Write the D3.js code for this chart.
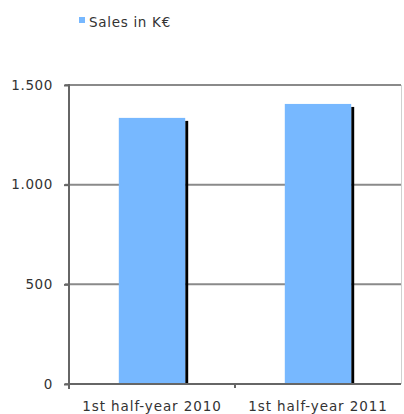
<!DOCTYPE html>
<html>
<head>
<meta charset="utf-8">
<script src="https://cdn.jsdelivr.net/npm/d3@7"></script>
<style>
  body { margin: 0; background: #fff; }
  svg { display: block; font-family: "DejaVu Sans", Verdana, sans-serif; }
</style>
</head>
<body>
<svg width="404" height="414"></svg>
<script>
var categories = ["1st half-year 2010", "1st half-year 2011"];
var sales = [1335, 1405];
var seriesName = "Sales in K€";
var yTicks = [0, 500, 1000, 1500];
var yTickLabels = ["0", "500", "1.000", "1.500"];

const svg = d3.select('svg');
const plotLeft = 69, plotRight = 401, plotTop = 85, plotBottom = 384;
const labelFont = '"DejaVu Sans", Verdana, sans-serif';

const yScale = d3.scaleLinear()
  .range([plotBottom, plotTop])
  .domain([0, 1500]);

const xScale = d3.scaleBand()
  .range([plotLeft, plotRight])
  .domain(categories)
  .paddingInner(0.6)
  .paddingOuter(0.3);

// gridlines
svg.append('g')
  .selectAll('line')
  .data(yTicks)
  .enter()
  .append('line')
  .attr('x1', plotLeft - 4)
  .attr('x2', plotRight)
  .attr('y1', (d) => yScale(d))
  .attr('y2', (d) => yScale(d))
  .attr('stroke', '#8a8a8a')
  .attr('stroke-width', 2);

// right border
svg.append('line')
  .attr('x1', plotRight + 0.5).attr('x2', plotRight + 0.5)
  .attr('y1', plotTop).attr('y2', plotBottom)
  .attr('stroke', '#d0d0d0');

// bar shadows
svg.append('g')
  .selectAll('rect')
  .data(sales)
  .enter()
  .append('rect')
  .attr('x', (d, i) => xScale(categories[i]) + xScale.bandwidth())
  .attr('y', (d) => yScale(d) + 3)
  .attr('width', 3)
  .attr('height', (d) => plotBottom - yScale(d) - 3)
  .attr('fill', '#000');

// bars
svg.append('g')
  .selectAll('rect')
  .data(sales)
  .enter()
  .append('rect')
  .attr('x', (d, i) => xScale(categories[i]))
  .attr('y', (d) => yScale(d))
  .attr('width', xScale.bandwidth())
  .attr('height', (d) => plotBottom - yScale(d))
  .attr('fill', '#77b8ff');

// y axis
const yAxis = svg.append('g')
  .attr('transform', `translate(${plotLeft}, 0)`)
  .call(d3.axisLeft(yScale)
    .tickValues(yTicks)
    .tickSize(5)
    .tickPadding(11)
    .tickFormat((d, i) => yTickLabels[i]));
yAxis.select('.domain').remove();
yAxis.selectAll('.tick line').attr('stroke', '#666').attr('stroke-width', 2);
yAxis.selectAll('text').attr('fill', '#333').attr('font-size', 13.5)
  .attr('letter-spacing', 0.6)
  .attr('font-family', labelFont);

svg.append('line')
  .attr('x1', plotLeft).attr('x2', plotLeft)
  .attr('y1', plotTop - 1).attr('y2', plotBottom + 5)
  .attr('stroke', '#666').attr('stroke-width', 2);

// x axis
const xAxis = svg.append('g')
  .attr('transform', `translate(0, ${plotBottom})`)
  .call(d3.axisBottom(xScale).tickSize(0).tickPadding(17));
xAxis.select('.domain').remove();
xAxis.selectAll('text').attr('fill', '#333').attr('font-size', 13.5)
  .attr('letter-spacing', 0.9)
  .attr('font-family', labelFont);

svg.append('line')
  .attr('x1', plotLeft).attr('x2', plotRight)
  .attr('y1', plotBottom).attr('y2', plotBottom)
  .attr('stroke', '#666').attr('stroke-width', 2);

// divider tick between categories
svg.append('line')
  .attr('x1', (plotLeft + plotRight) / 2).attr('x2', (plotLeft + plotRight) / 2)
  .attr('y1', plotBottom).attr('y2', plotBottom + 4)
  .attr('stroke', '#666').attr('stroke-width', 2);

// legend
svg.append('rect')
  .attr('x', 79).attr('y', 17)
  .attr('width', 6).attr('height', 6)
  .attr('fill', '#77b8ff');

svg.append('text')
  .attr('x', 89)
  .attr('y', 27)
  .attr('font-size', 13.5)
  .attr('letter-spacing', 0.7)
  .attr('fill', '#333')
  .attr('font-family', labelFont)
  .text(seriesName);
</script>
</body>
</html>
